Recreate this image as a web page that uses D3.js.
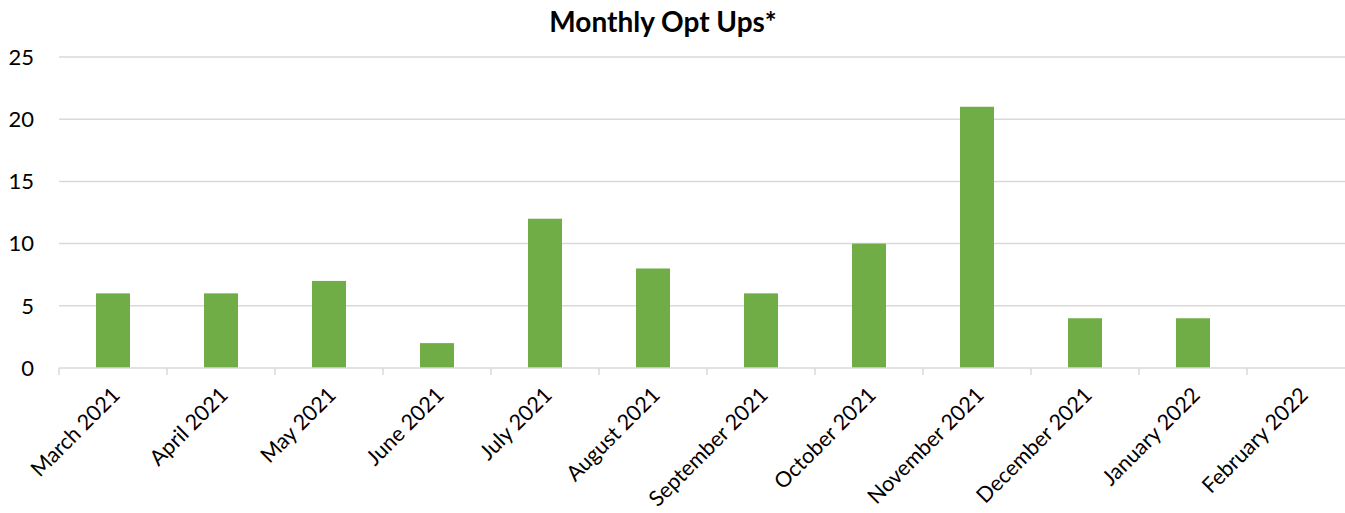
<!DOCTYPE html>
<html><head><meta charset="utf-8">
<script src="https://cdn.jsdelivr.net/npm/d3@7"></script>
<style>body{margin:0;background:#fff}svg{display:block}text{font-family:Lato,"Open Sans",sans-serif;fill:#000}</style>
</head><body><svg id="c" width="1345" height="513"></svg>
<script>
const categories = ["March 2021","April 2021","May 2021","June 2021","July 2021","August 2021","September 2021","October 2021","November 2021","December 2021","January 2022","February 2022"];
const values = [6,6,7,2,12,8,6,10,21,4,4,0];
const yTicks = [0,5,10,15,20,25];
const title = "Monthly Opt Ups*";

(function(){
const svg = d3.select("#c");
const mLeft = 59, mRight = 1355, mTop = 57, mBottom = 368;
const x = d3.scaleBand().domain(categories).range([mLeft, mRight]).paddingInner(0.685).paddingOuter(0.3425);
const xb = d3.scaleBand().domain(categories).range([mLeft, mRight]);
const y = d3.scaleLinear().domain([0,25]).range([mBottom, mTop]);

svg.append("text").attr("x",663).attr("y",32).attr("text-anchor","middle")
  .style("font-size","28px").style("font-weight","bold").text(title);

svg.append("g").selectAll("line").data(yTicks.filter(d=>d>0)).join("line")
  .attr("x1",mLeft).attr("x2",mRight).attr("y1",d=>y(d)).attr("y2",d=>y(d))
  .attr("stroke","#d9d9d9").attr("stroke-width",1.5);

svg.append("g").selectAll("text").data(yTicks).join("text")
  .attr("x",34).attr("y",d=>y(d)).attr("dy","0.35em").attr("text-anchor","end")
  .style("font-size","22px").text(d=>d);

svg.append("g").selectAll("rect").data(values).join("rect")
  .attr("x",(d,i)=>x(categories[i])).attr("width",x.bandwidth())
  .attr("y",d=>y(d)).attr("height",d=>mBottom-y(d)).attr("fill","#70ad47");

svg.append("line").attr("x1",mLeft).attr("x2",mRight).attr("y1",mBottom).attr("y2",mBottom)
  .attr("stroke","#d9d9d9").attr("stroke-width",1.5);
svg.append("g").selectAll("line").data(categories).join("line")
  .attr("x1",d=>xb(d)).attr("x2",d=>xb(d)).attr("y1",mBottom).attr("y2",mBottom+7)
  .attr("stroke","#d9d9d9").attr("stroke-width",1.5);

svg.append("g").selectAll("text").data(categories).join("text")
  .attr("transform",d=>`translate(${xb(d)+xb.bandwidth()/2+3},${mBottom+23}) rotate(-45)`)
  .attr("text-anchor","end").attr("dy","0.35em")
  .style("font-size","21.5px").text(d=>d);
})();
</script></body></html>
